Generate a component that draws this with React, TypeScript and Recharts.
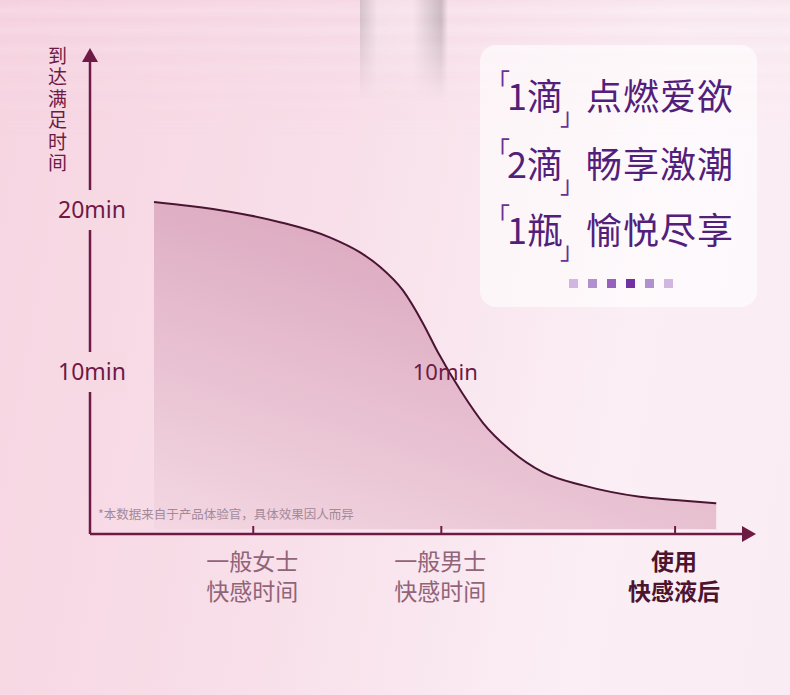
import React from "react"
import { ComposedChart, Area, XAxis, YAxis, ReferenceDot } from "recharts"

// curve: position along the axis (0-100) and minutes
const timeX = [9.8, 15.3, 21.4, 29.1, 36.8, 41.3, 44.4, 47.9, 51.0, 53.3, 57.0, 60.2, 64.3, 69.4, 75.5, 84.2, 89.6, 95.9]
const minutes = [20.5, 20.25, 19.9, 19.25, 18.3, 17.4, 16.5, 15.05, 13.0, 11.2, 8.7, 6.85, 5.2, 3.8, 3.0, 2.3, 2.1, 1.9]

const categoryPos = [25, 53.8, 89.6]
const categoryLine1 = ["一般女士", "一般男士", "使用"]
const categoryLine2 = ["快感时间", "快感时间", "快感液后"]

const minuteTicks = [10, 20]
const yTitle = "到达满足时间"

const slogans = [
  { count: "1滴", text: "点燃爱欲" },
  { count: "2滴", text: "畅享激潮" },
  { count: "1瓶", text: "愉悦尽享" },
]
const dotColors = ["#cfb7e2", "#b090cf", "#9661bd", "#7131a2", "#b090cf", "#cfb7e2"]

const note = "*本数据来自于产品体验官，具体效果因人而异"

const AXIS = "#6e1a45"
const CJK = '"Noto Sans CJK SC", "Noto Sans", sans-serif'

const chartData = timeX.map((x, i) => ({ x, y: minutes[i] }))

function XTick({ x, y, payload }: any) {
  const i = categoryPos.indexOf(payload.value)
  const strong = i === 2
  const color = strong ? "#4d1430" : "#906479"
  return (
    <g>
      <line x1={x} x2={x} y1={y - 8} y2={y} stroke={AXIS} strokeWidth={2} />
      <text y={y + 28} textAnchor="middle" fill={color} fontSize={23}
        fontWeight={strong ? 700 : 400} fontFamily={CJK}>
        <tspan x={x - 1} dy="0.35em">{categoryLine1[i]}</tspan>
        <tspan x={x - 1} dy={30}>{categoryLine2[i]}</tspan>
      </text>
    </g>
  )
}

function YTick({ x, y, payload }: any) {
  return (
    <g>
      <rect x={x - 34} y={y - 20} width={70} height={40} fill="#f7d9e4" />
      <text x={x + 2} y={y} dy="0.35em" textAnchor="middle" fill={AXIS} fontSize={23}
        fontFamily='"Noto Sans", sans-serif'>{payload.value}min</text>
    </g>
  )
}

function MidLabel({ viewBox }: any) {
  const cx = viewBox.x + viewBox.width / 2
  const cy = viewBox.y + viewBox.height / 2
  return (
    <text x={cx} y={cy} dy="0.35em" textAnchor="middle" fill={AXIS} fontSize={22}
      fontFamily='"Noto Sans", sans-serif'>10min</text>
  )
}

export default function App() {
  return (
    <div style={{
      position: "relative", width: 790, height: 695, overflow: "hidden",
      background: "linear-gradient(100deg, #f6d5e1 0%, #f8dfe9 40%, #fbeef4 75%, #f9edf3 100%)",
    }}>
      <style>{`body{margin:0}`}</style>
      {/* top streaks */}
      <div style={{
        position: "absolute", left: 0, top: 0, width: 790, height: 140,
        background: "repeating-linear-gradient(180deg, rgba(240,180,205,0.14) 0px, rgba(255,240,246,0.12) 11px, rgba(240,185,208,0.12) 19px)",
        WebkitMaskImage: "linear-gradient(180deg, #000 0%, transparent 100%)",
        maskImage: "linear-gradient(180deg, #000 0%, transparent 100%)",
      }} />
      <div style={{
        position: "absolute", left: 360, top: 0, width: 88, height: 100,
        background: "linear-gradient(90deg, rgba(170,160,165,0.45) 0%, rgba(240,235,238,0.3) 20%, rgba(250,245,248,0.2) 60%, rgba(150,140,145,0.45) 92%, rgba(240,230,235,0) 100%)",
        WebkitMaskImage: "linear-gradient(180deg, #000 20%, transparent 100%)",
        maskImage: "linear-gradient(180deg, #000 20%, transparent 100%)",
      }} />

      <div style={{
        position: "absolute", left: 46, top: 46, writingMode: "vertical-rl", fontFamily: CJK,
        fontSize: 19, lineHeight: "22px", letterSpacing: 2.5, color: AXIS, whiteSpace: "nowrap",
      }}>{yTitle}</div>

      <div style={{ position: "absolute", left: 0, top: 0 }}>
        <ComposedChart width={790} height={695} data={chartData}
          margin={{ top: 61, right: 47, left: 30, bottom: 101 }}>
          <defs>
            <linearGradient id="curveFill" x1="0" y1="1" x2="0.55" y2="0">
              <stop offset="0%" stopColor="#f3d7e2" />
              <stop offset="100%" stopColor="#d9a3bb" />
            </linearGradient>
            <marker id="arrowHead" viewBox="0 0 14 16" refX="1" refY="8" markerWidth="14" markerHeight="16"
              markerUnits="userSpaceOnUse" orient="auto-start-reverse">
              <path d="M0,0 L14,8 L0,16 Z" fill={AXIS} />
            </marker>
          </defs>
          <XAxis dataKey="x" type="number" domain={[0, 100]} ticks={categoryPos} interval={0}
            tickSize={0} tickMargin={0} height={60} tickLine={false} tick={<XTick />}
            axisLine={{ stroke: AXIS, strokeWidth: 2.5, markerEnd: "url(#arrowHead)" }} />
          <YAxis type="number" domain={[0, 29.2]} ticks={minuteTicks} interval={0} width={60}
            tickSize={0} tickMargin={0} tickLine={false} tick={<YTick />}
            axisLine={{ stroke: AXIS, strokeWidth: 2.5, markerStart: "url(#arrowHead)" }} />
          <Area type="monotone" dataKey="y" baseValue={0.3} stroke="#4a1533" strokeWidth={2}
            fill="url(#curveFill)" fillOpacity={1} dot={false} activeDot={false}
            isAnimationActive={false} />
          <ReferenceDot x={54.4} y={10} r={0} ifOverflow="visible" label={<MidLabel />} />
        </ComposedChart>
      </div>

      <div style={{
        position: "absolute", left: 98, top: 504, fontFamily: CJK, fontSize: 12.5,
        color: "#a3899a", whiteSpace: "nowrap",
      }}>{note}</div>

      {/* slogan card */}
      <div style={{
        position: "absolute", left: 480, top: 45, width: 277, height: 262, borderRadius: 16,
        background: "rgba(255,255,255,0.62)",
      }} />
      {slogans.map((s, i) => {
        const cy = [94, 162, 228][i]
        return (
          <React.Fragment key={i}>
            <span style={{ position: "absolute", left: 486, top: cy - 25, fontFamily: CJK, fontSize: 24,
              lineHeight: "24px", color: "#6a3093" }}>「</span>
            <span style={{ position: "absolute", left: 507, top: cy - 19, fontFamily: CJK, fontSize: 36,
              lineHeight: "38px", color: "#52207a", whiteSpace: "nowrap" }}>{s.count}</span>
            <span style={{ position: "absolute", left: 560, top: cy + 9, fontFamily: CJK, fontSize: 24,
              lineHeight: "24px", color: "#6a3093" }}>」</span>
            <span style={{ position: "absolute", left: 586, top: cy - 19, fontFamily: CJK, fontSize: 36,
              lineHeight: "38px", color: "#52207a", letterSpacing: 1, whiteSpace: "nowrap" }}>{s.text}</span>
          </React.Fragment>
        )
      })}
      {dotColors.map((c, i) => (
        <div key={i} style={{ position: "absolute", left: 569 + i * 19, top: 279, width: 9, height: 9, background: c }} />
      ))}
    </div>
  )
}
